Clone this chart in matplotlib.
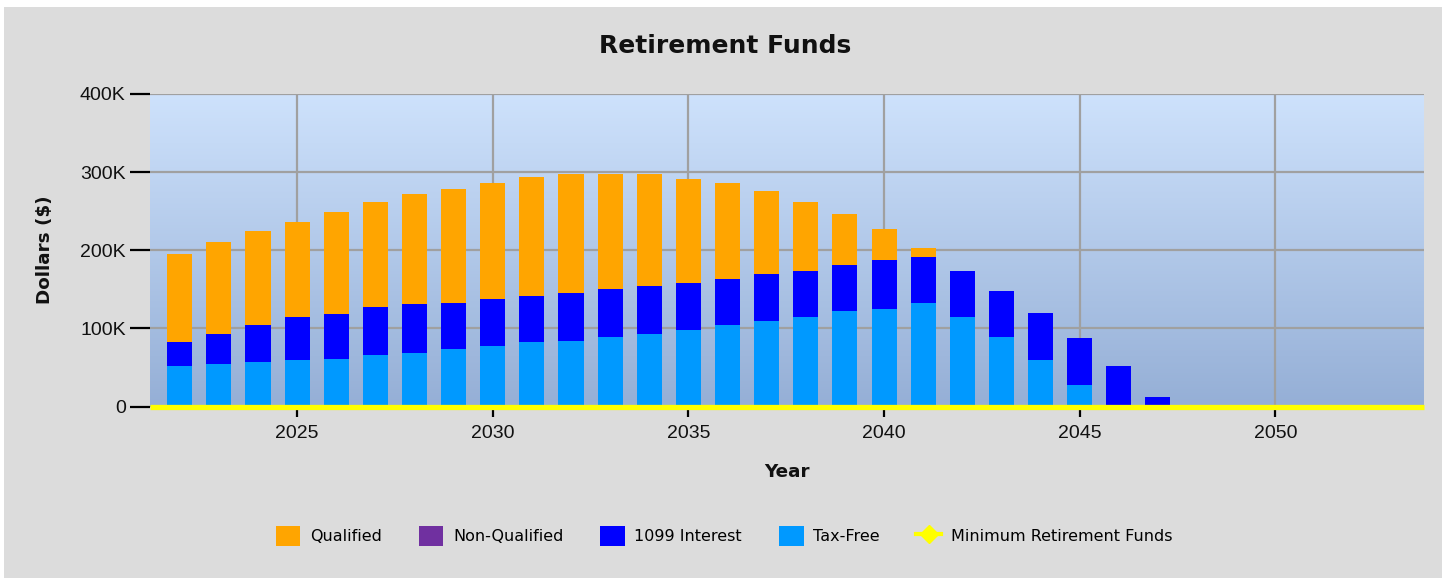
import numpy as np
import matplotlib
matplotlib.use("Agg")
import matplotlib.pyplot as plt
from matplotlib.patches import Patch, Rectangle
from matplotlib.lines import Line2D
from matplotlib.ticker import FuncFormatter

plt.rcParams["font.family"] = ["Liberation Sans", "DejaVu Sans"]

years = list(range(2022, 2048))
tax_free = [52, 55, 57, 60, 61, 66, 68, 74, 77, 82, 84, 89, 93, 98, 104, 109, 114, 122, 125, 133,
            114, 89, 60, 28, 0, 0]
interest_1099 = [31, 38, 47, 54, 58, 61, 63, 59, 61, 59, 61, 61, 61, 60, 59, 61, 60, 59, 62, 59,
                 60, 59, 60, 60, 52, 12]
non_qualified = [0] * 26
qualified = [112, 117, 121, 122, 130, 135, 141, 145, 148, 153, 152, 147, 143, 133, 123, 106, 88, 65, 40, 11,
             0, 0, 0, 0, 0, 0]
min_funds = [0] * 26

scale = 1000
tf = np.array(tax_free) * scale
it = np.array(interest_1099) * scale
nq = np.array(non_qualified) * scale
q = np.array(qualified) * scale

W, H = 1446, 578
fig = plt.figure(figsize=(W / 100, H / 100), dpi=100, facecolor="white")
fig.patches.append(Rectangle((4 / W, 0), (1442 - 4) / W, (H - 7) / H, transform=fig.transFigure,
                             facecolor="#dcdcdc", edgecolor="none", zorder=-10))

ax = fig.add_axes([150 / W, (H - 406.5) / H, (1424 - 150) / W, (406.5 - 94) / H])
ax.set_facecolor("none")

grad = np.linspace(0, 1, 256).reshape(-1, 1)
top = np.array([206, 226, 252]) / 255
bot = np.array([149, 175, 214]) / 255
img = top[None, None, :] * (1 - grad[:, :, None]) + bot[None, None, :] * grad[:, :, None]
ax.imshow(img, extent=(0, 1, 0, 1), transform=ax.transAxes, aspect="auto", zorder=0)

x0, x1 = 2021.24, 2053.8
ax.set_xlim(x0, x1)
ax.set_ylim(0, 400000)

bw = 0.64
ax.bar(years, tf, width=bw, color="#0099ff", zorder=2)
ax.bar(years, it, width=bw, bottom=tf, color="#0000ff", zorder=2)
ax.bar(years, nq, width=bw, bottom=tf + it, color="#7030a0", zorder=2)
ax.bar(years, q, width=bw, bottom=tf + it + nq, color="#ffa500", zorder=2)

ax.plot([x0] + years + [x1], [0] + [v * scale for v in min_funds] + [0],
        color="#ffff00", lw=3.8, zorder=3, clip_on=False, solid_capstyle="butt")

ax.set_axisbelow(True)
ax.grid(True, color="#a0a0a0", lw=1.6, zorder=1)
for s in ax.spines.values():
    s.set_visible(False)

ax.set_xticks([2025, 2030, 2035, 2040, 2045, 2050])
ax.set_yticks([0, 100000, 200000, 300000, 400000])
ax.yaxis.set_major_formatter(FuncFormatter(lambda v, p: "0" if v == 0 else f"{int(v/1000)}K"))
ax.tick_params(axis="y", length=14.5, width=1.6, color="black", pad=3, labelsize=14, labelcolor="#111111")
ax.tick_params(axis="x", length=7.5, width=1.6, color="black", pad=6, labelsize=14, labelcolor="#111111")

fig.text(725 / W, 1 - 46 / H, "Retirement Funds", ha="center", va="center",
         fontsize=18, fontweight="bold", family="DejaVu Sans", color="#111111")
fig.text(787 / W, 1 - 472 / H, "Year", ha="center", va="center",
         fontsize=13.2, fontweight="bold", family="DejaVu Sans", color="#111111")
fig.text(45 / W, 1 - 250 / H, "Dollars ($)", ha="center", va="center", rotation=90,
         fontsize=13.2, fontweight="bold", family="DejaVu Sans", color="#111111")

handles = [
    Patch(facecolor="#ffa500", edgecolor="none", label="Qualified"),
    Patch(facecolor="#7030a0", edgecolor="none", label="Non-Qualified"),
    Patch(facecolor="#0000ff", edgecolor="none", label="1099 Interest"),
    Patch(facecolor="#0099ff", edgecolor="none", label="Tax-Free"),
    Line2D([], [], color="#ffff00", lw=3, marker="D", markersize=9, label="Minimum Retirement Funds"),
]
leg = fig.legend(handles=handles, loc="center", bbox_to_anchor=(724 / W, 1 - 536 / H), ncol=5,
                 frameon=False, prop={"family": "DejaVu Sans", "size": 11.5},
                 handlelength=1.55, handleheight=1.55, handletextpad=0.6, columnspacing=2.3)

fig.savefig("out.png", dpi=100, facecolor="white")
